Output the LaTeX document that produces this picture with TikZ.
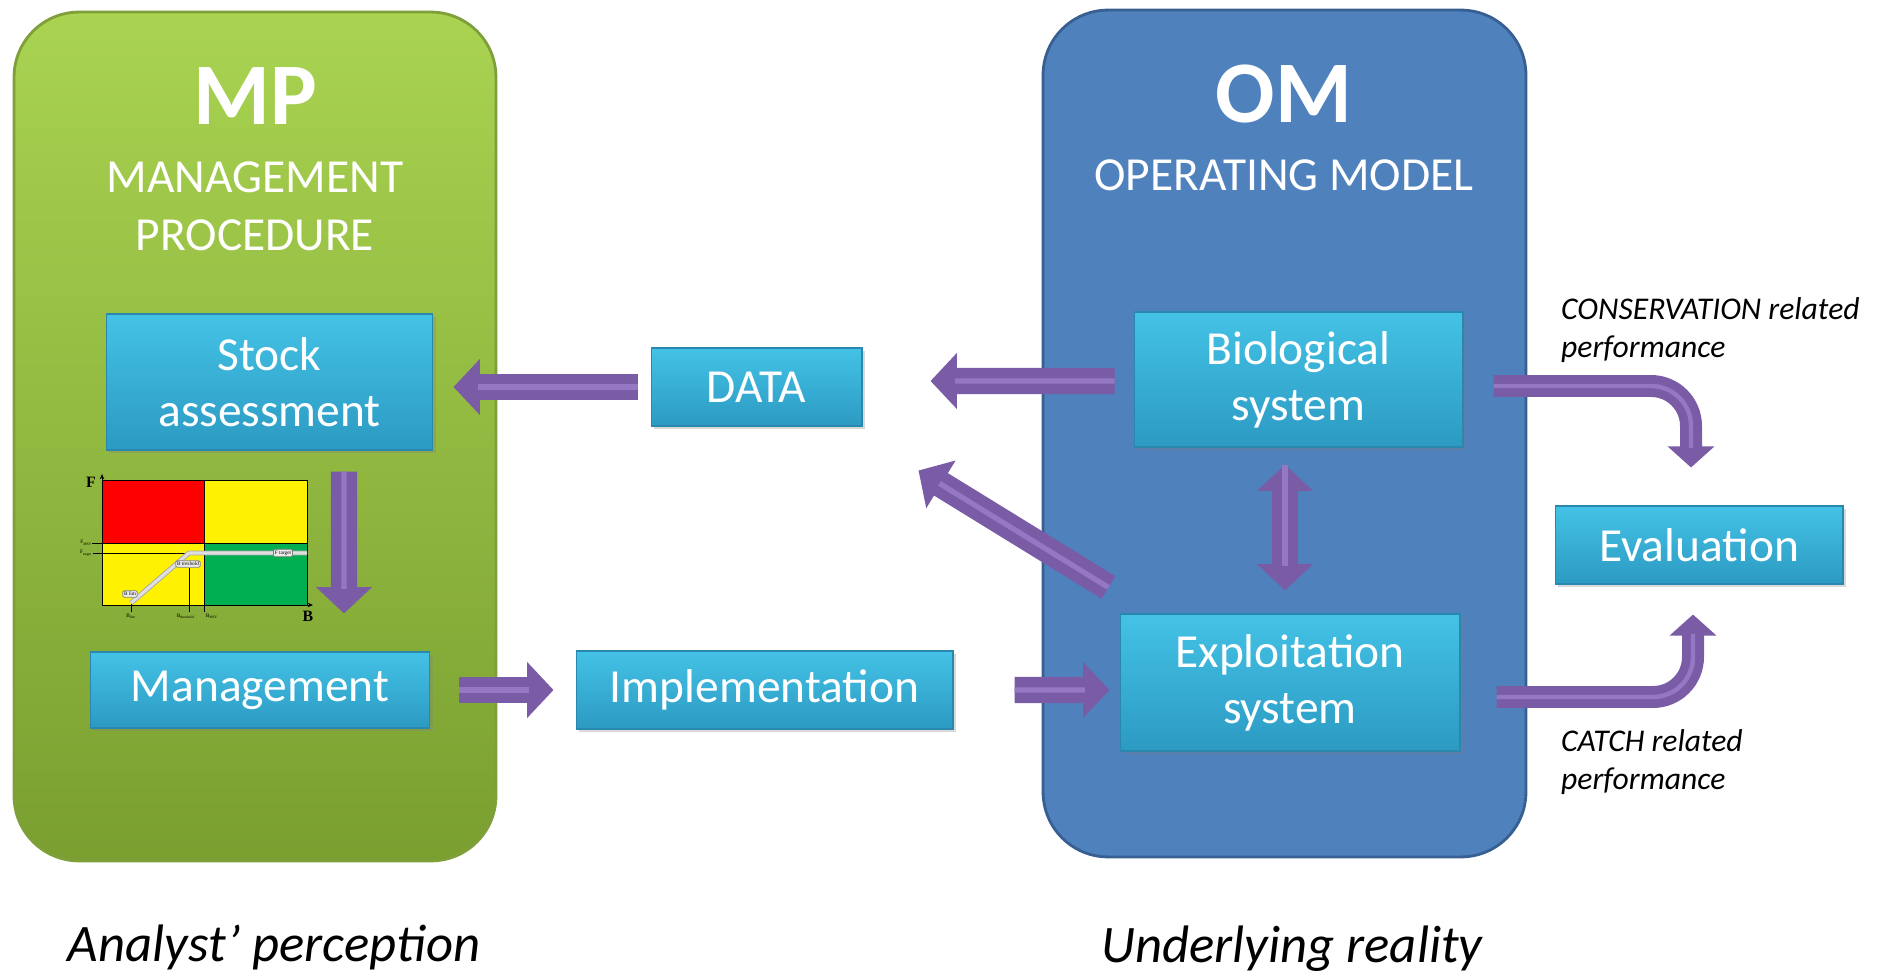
\documentclass[tikz,border=0pt]{standalone}
\usepackage{fontspec}
\setmainfont{Carlito}
\newfontfamily\chartfont{Liberation Serif}
\usepackage{tikz}
\usetikzlibrary{arrows.meta}
\usetikzlibrary{calc}
\usetikzlibrary{shadows}

\definecolor{mptop}{HTML}{A9D351}
\definecolor{mpbot}{HTML}{7A9F30}
\definecolor{mpedge}{HTML}{7F9F3A}
\definecolor{omfill}{HTML}{4F81BD}
\definecolor{omedge}{HTML}{385F92}
\definecolor{boxtop}{HTML}{44C2E6}
\definecolor{boxbot}{HTML}{2C9AC2}
\definecolor{boxedge}{HTML}{2A88AE}
\definecolor{arrowpurple}{HTML}{7A5CA6}
\definecolor{arrowlight}{HTML}{9478C4}
\definecolor{hcrgreen}{HTML}{00B050}

\begin{document}
\begin{tikzpicture}[x=0.02cm,y=-0.02cm,>/.tip={Triangle[length=15pt,width=31pt]},
	panel/.style={line width=1.6pt,rounded corners=1.3cm},
	box/.style={draw=boxedge,line width=0.6pt,top color=boxtop,bottom color=boxbot,text=white,
		font=\fontsize{27}{32}\selectfont,align=center,
		drop shadow={opacity=0.3,shadow xshift=1.5pt,shadow yshift=-1.5pt}},
	fat/.style={draw=arrowpurple,line width=15pt,->,
		postaction={draw=arrowlight,line width=3pt,-,shorten >=14pt}},
	curvy/.style={draw=arrowpurple,line width=12.5pt,rounded corners=0.8cm,
		-{Triangle[length=12pt,width=26pt]},
		postaction={draw=arrowlight,line width=2.5pt,-,shorten >=11pt}},
	hcrlab/.style={draw=gray,fill=gray!15,rounded corners=0.8pt,inner sep=0.8pt,
		font=\chartfont\fontsize{3}{3}\selectfont},
	tick/.style={inner sep=0.8pt,font=\chartfont\fontsize{3}{3}\selectfont}]
	\useasboundingbox (0,0) rectangle (1880,976);

	% the two panels
	\draw (255,436.5) node (MP) [panel,draw=mpedge,top color=mptop,bottom color=mpbot,
		minimum width=9.64cm,minimum height=16.98cm] {};
	\draw (1284.5,433.5) node (OM) [panel,draw=omedge,fill=omfill,
		minimum width=9.66cm,minimum height=16.94cm] {};
	\node [text=white,font=\fontsize{50}{60}\selectfont\bfseries] at (255,96) {MP};
	\node [text=white,font=\fontsize{27}{33}\selectfont,align=center] at (255,206) {MANAGEMENT\\PROCEDURE};
	\node [text=white,font=\fontsize{50}{60}\selectfont\bfseries] at (1284,94) {OM};
	\node [text=white,font=\fontsize{27}{33}\selectfont] at (1284,175) {OPERATING MODEL};

	% boxes
	\draw (269.5,382) node (SA) [box,minimum width=6.54cm,minimum height=2.72cm] {Stock\\assessment};
	\draw (756.5,387) node (DATA) [box,minimum width=4.22cm,minimum height=1.56cm] {DATA};
	\draw (1298.5,379.5) node (BS) [box,minimum width=6.58cm,minimum height=2.7cm] {Biological\\system};
	\draw (1290,682.5) node (ES) [box,minimum width=6.8cm,minimum height=2.74cm] {Exploitation\\system};
	\draw (260,690) node (MG) [box,minimum width=6.8cm,minimum height=1.52cm] {Management};
	\draw (764.5,690) node (IM) [box,minimum width=7.54cm,minimum height=1.56cm] {Implementation};
	\draw (1699,545) node (EV) [box,minimum width=5.76cm,minimum height=1.56cm] {Evaluation};

	% harvest control rule
	\fill[red] (102,480) rectangle (204,543);
	\fill[yellow] (204,480) rectangle (307,543);
	\fill[yellow] (102,543) rectangle (204,605);
	\fill[hcrgreen] (204,543) rectangle (307,605);
	\draw[line width=0.4pt] (102,480) rectangle (307,605);
	\draw[line width=0.4pt] (204,480) -- (204,612);
	\draw[line width=0.4pt] (92,543) -- (307,543);
	\draw[line width=0.4pt] (93,553) -- (189,553);
	\draw[line width=0.4pt] (189,568) -- (189,612);
	\draw[line width=0.4pt] (131,603) -- (131,612);
	\draw[line width=0.5pt,-{Stealth[length=3pt,width=2.5pt]}] (102,605) -- (102,474);
	\draw[line width=0.5pt,-{Stealth[length=3pt,width=2.5pt]}] (102,605) -- (313,605);
	\draw[line width=2.8pt,gray!70,line join=round] (131,603) -- (189,553) -- (307,553);
	\draw[line width=1.8pt,gray!25,line join=round] (131,603) -- (189,553) -- (307,553);
	\node [hcrlab] at (130,594) {B lim};
	\node [hcrlab] at (188,564) {B treshold};
	\node [hcrlab] at (283,553) {F target};
	\node [font=\chartfont\bfseries\fontsize{9}{9}\selectfont] at (91,482) {F};
	\node [font=\chartfont\bfseries\fontsize{9}{9}\selectfont] at (308,616) {B};
	\node [tick,left] at (94,543) {F\textsubscript{MSY}};
	\node [tick,left] at (94,553) {F\textsubscript{target}};
	\node [tick,below] at (131,612) {B\textsubscript{lim}};
	\node [tick,below] at (186,612) {B\textsubscript{threshold}};
	\node [tick,below] at (212,612) {B\textsubscript{MSY}};

	% arrows
	\draw[fat] ($(DATA.west)+(-13,0)$) -- ($(SA.east)+(20,5)$);
	\draw[fat] ($(BS.west)+(-19,1.5)$) -- ($(DATA.east)+(68,-6)$);
	\draw[fat] ($(ES.north west)+(-11,-26)$) -- ($(DATA.south east)+(56,44)$);
	\draw[fat,<->,postaction={shorten <=14pt}] ($(BS.south)+(-13.5,17)$) -- ($(ES.north)+(-5,-23)$);
	\draw[fat] ($(SA.south)+(74.5,21)$) -- ($(MG.north)+(84,-38)$);
	\draw[fat] ($(MG.east)+(29,0)$) -- ($(IM.west)+(-22,0)$);
	\draw[fat] ($(IM.east)+(61,0)$) -- ($(ES.west)+(-10,7.5)$);
	\draw[curvy] ($(BS.east)+(30,6.5)$) -| ($(EV.north)+(-8,-38)$);
	\draw[curvy] ($(ES.east)+(36,14.5)$) -| ($(EV.south)+(-6,30)$);

	% captions
	\node [font=\fontsize{18}{22}\selectfont\itshape,align=left,anchor=west] at (1555,330) {CONSERVATION related\\performance};
	\node [font=\fontsize{18}{22}\selectfont\itshape,align=left,anchor=west] at (1555,762) {CATCH related\\performance};
	\node [font=\fontsize{30}{36}\selectfont\itshape] at (274,947) {Analyst’ perception};
	\node [font=\fontsize{30}{36}\selectfont\itshape] at (1292,949) {Underlying reality};
\end{tikzpicture}
\end{document}
